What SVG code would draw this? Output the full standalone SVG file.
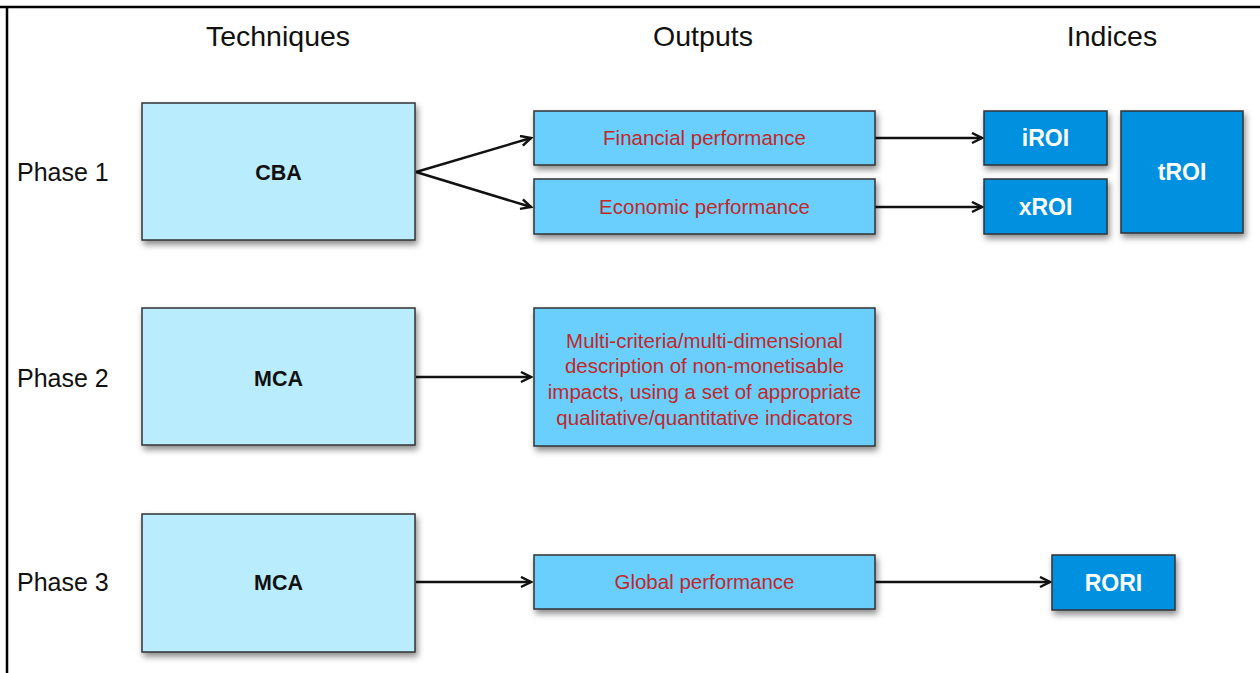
<svg xmlns="http://www.w3.org/2000/svg" width="1260" height="673" viewBox="0 0 1260 673">
<style>
.hdr{font-family:"Liberation Sans",Arial,sans-serif;font-size:28.5px;fill:#111;text-anchor:middle}
.ph{font-family:"Liberation Sans",Arial,sans-serif;font-size:25px;fill:#111}
.tech{fill:#b9ecfc;stroke:#333;stroke-width:1.5;filter:url(#sh)}
.out{fill:#6bcffc;stroke:#333;stroke-width:1.5;filter:url(#sh)}
.idx{fill:#0090e0;stroke:#333;stroke-width:1.5;filter:url(#sh)}
.tt{font-family:"Liberation Sans",Arial,sans-serif;font-size:21.5px;font-weight:bold;fill:#111;text-anchor:middle}
.ot{font-family:"Liberation Sans",Arial,sans-serif;font-size:20.5px;fill:#c0282a;text-anchor:middle}
.it{font-family:"Liberation Sans",Arial,sans-serif;font-size:23px;font-weight:bold;fill:#fff;text-anchor:middle}
.con{stroke:#111;stroke-width:2.5;fill:none;marker-end:url(#ah)}
</style>
<defs>
<filter id="sh" x="-20%" y="-20%" width="140%" height="150%">
<feDropShadow dx="2" dy="4" stdDeviation="3" flood-color="#000" flood-opacity="0.45"/>
</filter>
<marker id="ah" markerWidth="14" markerHeight="14" refX="11" refY="6" orient="auto" markerUnits="userSpaceOnUse">
<path d="M1,1 L11,6 L1,11" fill="none" stroke="#111" stroke-width="2.5"/>
</marker>
</defs>
<rect x="0" y="0" width="1260" height="673" fill="#fff"/>
<line x1="0" y1="7" x2="1260" y2="7" stroke="#000" stroke-width="2.5"/>
<line x1="7" y1="7" x2="7" y2="673" stroke="#000" stroke-width="2.5"/>

<text class="hdr" x="278" y="46">Techniques</text>
<text class="hdr" x="703" y="46">Outputs</text>
<text class="hdr" x="1112" y="46">Indices</text>

<text class="ph" x="17" y="181">Phase 1</text>
<text class="ph" x="17" y="387">Phase 2</text>
<text class="ph" x="17" y="591">Phase 3</text>

<g id="connectors">
<path class="con" d="M416,172 L531,138"/>
<path class="con" d="M416,172 L531,207"/>
<path class="con" d="M875,138 L982,138"/>
<path class="con" d="M875,207 L982,207"/>
<path class="con" d="M416,377 L531,377"/>
<path class="con" d="M416,582 L531,582"/>
<path class="con" d="M875,582 L1050,582"/>
</g>

<g id="cba"><rect class="tech" x="142" y="103" width="273" height="137"/><text class="tt" x="278.5" y="180">CBA</text></g>
<g id="mca2"><rect class="tech" x="142" y="308" width="273" height="137"/><text class="tt" x="278.5" y="386">MCA</text></g>
<g id="mca3"><rect class="tech" x="142" y="514" width="273" height="138"/><text class="tt" x="278.5" y="590">MCA</text></g>

<g id="financial"><rect class="out" x="534" y="111" width="341" height="54"/><text class="ot" x="704.5" y="145">Financial performance</text></g>
<g id="economic"><rect class="out" x="534" y="179" width="341" height="55"/><text class="ot" x="704.5" y="214">Economic performance</text></g>
<g id="multi"><rect class="out" x="534" y="308" width="341" height="138"/>
<text class="ot" x="704.5" y="348">Multi-criteria/multi-dimensional</text>
<text class="ot" x="704.5" y="373">description of non-monetisable</text>
<text class="ot" x="704.5" y="399">impacts, using a set of appropriate</text>
<text class="ot" x="704.5" y="425">qualitative/quantitative indicators</text></g>
<g id="global"><rect class="out" x="534" y="555" width="341" height="54"/><text class="ot" x="704.5" y="589">Global performance</text></g>

<g id="iroi"><rect class="idx" x="984" y="111" width="123" height="54"/><text class="it" x="1045.5" y="146">iROI</text></g>
<g id="xroi"><rect class="idx" x="984" y="179" width="123" height="55"/><text class="it" x="1045.5" y="215">xROI</text></g>
<g id="troi"><rect class="idx" x="1121" y="111" width="122" height="122"/><text class="it" x="1182" y="180">tROI</text></g>
<g id="rori"><rect class="idx" x="1052" y="555" width="123" height="55"/><text class="it" x="1113.5" y="591">RORI</text></g>
</svg>
